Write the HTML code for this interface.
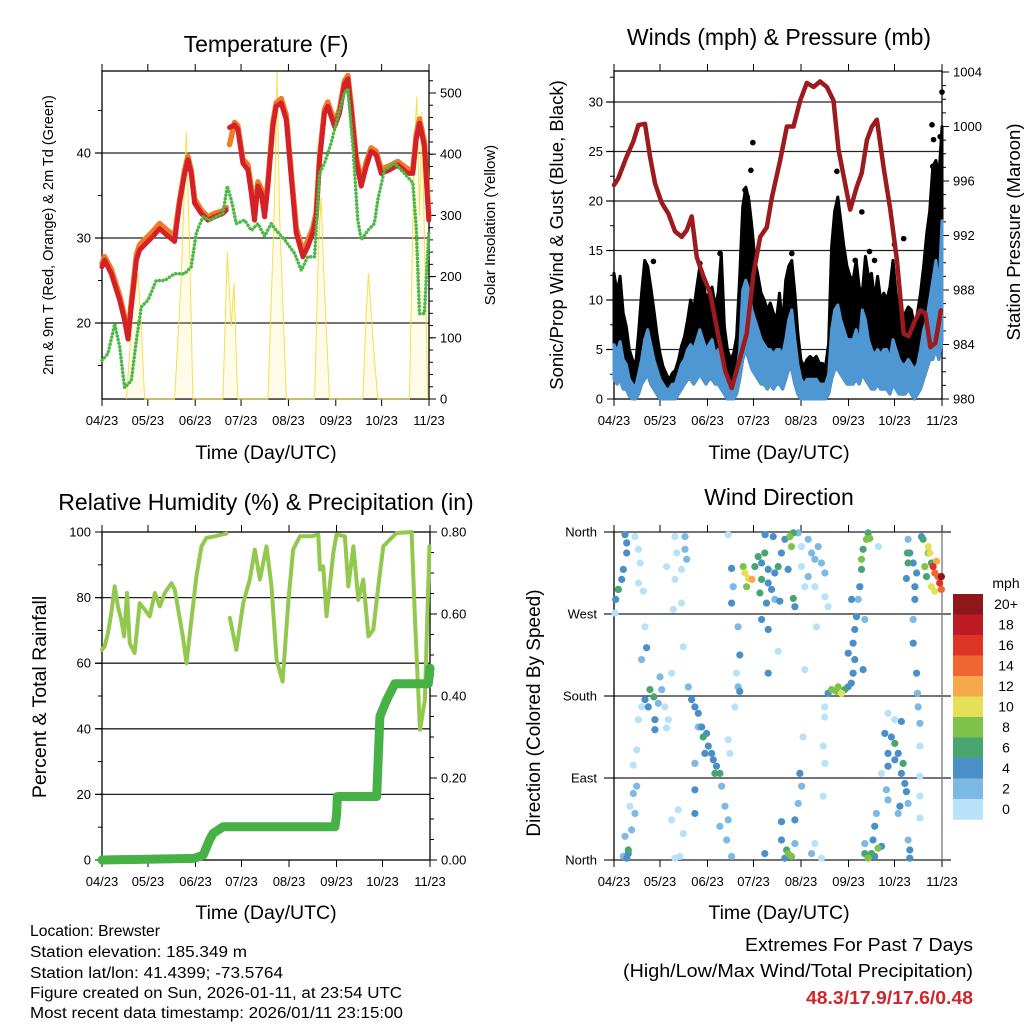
<!DOCTYPE html>
<html><head><meta charset="utf-8">
<style>
html,body{margin:0;padding:0;background:#fff;}
svg{display:block;font-family:"Liberation Sans",sans-serif;}
.nar{font-family:"Liberation Sans Narrow","Liberation Sans",sans-serif;}
</style></head>
<body>
<svg id="chart" width="1024" height="1024" viewBox="0 0 1024 1024" xmlns="http://www.w3.org/2000/svg">
<rect width="1024" height="1024" fill="#fff"/>
<g id="layer"></g>
<text x="266" y="52" font-size="23" text-anchor="middle">Temperature (F)</text>
<text x="779" y="45" font-size="23" text-anchor="middle">Winds (mph) &amp; Pressure (mb)</text>
<text x="266" y="510" font-size="23" text-anchor="middle">Relative Humidity (%) &amp; Precipitation (in)</text>
<text x="779" y="505" font-size="23" text-anchor="middle">Wind Direction</text>
<text x="266" y="459" font-size="19.5" text-anchor="middle">Time (Day/UTC)</text>
<text x="779" y="459" font-size="19.5" text-anchor="middle">Time (Day/UTC)</text>
<text x="266" y="919" font-size="19.5" text-anchor="middle">Time (Day/UTC)</text>
<text x="779" y="919" font-size="19.5" text-anchor="middle">Time (Day/UTC)</text>
<text transform="translate(53,235) rotate(-90)" font-size="14.5" text-anchor="middle">2m &amp; 9m T (Red, Orange) &amp; 2m Td (Green)</text>
<text transform="translate(495,225) rotate(-90)" font-size="15" text-anchor="middle">Solar Insolation (Yellow)</text>
<text transform="translate(563,235) rotate(-90)" font-size="18.5" text-anchor="middle">Sonic/Prop Wind &amp; Gust (Blue, Black)</text>
<text transform="translate(1020,232) rotate(-90)" font-size="18.5" text-anchor="middle">Station Pressure (Maroon)</text>
<text transform="translate(46,697) rotate(-90)" font-size="19.5" text-anchor="middle">Percent &amp; Total Rainfall</text>
<text transform="translate(540,713) rotate(-90)" font-size="19" text-anchor="middle">Direction (Colored By Speed)</text>
<text x="1006" y="588" font-size="14" text-anchor="middle">mph</text>
<g font-size="15.5" class="nar">
<text x="30" y="936" textLength="130" lengthAdjust="spacingAndGlyphs">Location: Brewster</text>
<text x="30" y="957" textLength="217" lengthAdjust="spacingAndGlyphs">Station elevation: 185.349 m</text>
<text x="30" y="978" textLength="253" lengthAdjust="spacingAndGlyphs">Station lat/lon: 41.4399; -73.5764</text>
<text x="30" y="998" textLength="372" lengthAdjust="spacingAndGlyphs">Figure created on Sun, 2026-01-11, at 23:54 UTC</text>
<text x="30" y="1018" textLength="373" lengthAdjust="spacingAndGlyphs">Most recent data timestamp: 2026/01/11 23:15:00</text>
</g>
<g font-size="18" class="nar">
<text x="745" y="951" textLength="228" lengthAdjust="spacingAndGlyphs">Extremes For Past 7 Days</text>
<text x="623" y="977" textLength="350" lengthAdjust="spacingAndGlyphs">(High/Low/Max Wind/Total Precipitation)</text>
<text x="806" y="1004" textLength="167" lengthAdjust="spacingAndGlyphs" fill="#d0262b" font-weight="bold">48.3/17.9/17.6/0.48</text>
</g>
</svg>
<script>
const monthDays=[0,30,61,91,122,153,183,214];
const monthLabels=['04/23','05/23','06/23','07/23','08/23','09/23','10/23','11/23'];
const tDays=[0,1.7,6.1,11.6,14.8,17,19.2,22.5,24.6,30.1,33.4,37.7,42.1,47.5,50.8,54.1,56.2,58.4,60.6,65,69.3,73.7,79.1,81.3,82,83.5,86.8,88.9,92.2,95.5,97.7,99.8,102,104.2,106.4,108.6,111.8,114,117.3,120.6,123.8,127.1,131.5,134.7,138,140.2,142.4,145.6,147.8,152.2,155.4,158.7,160.9,163.1,166.3,169.6,172.9,176.1,179.4,182.7,188.1,193.6,200.1,203.4,205.6,207.8,211,213.9];
const tRed=[26.6,27.4,25.8,22.7,20.3,18.1,21.9,27.4,28.6,29.6,30.2,31.1,30.4,29.6,34.1,37.6,39.2,37.6,34.1,32.9,32.1,32.5,32.9,33.3,null,43,43.3,42.8,38.8,38,35.3,32.1,36.1,35.3,32.5,36.1,43.1,45.5,45.9,43.9,37.2,30.6,27.8,29,30.6,32.5,39.2,44.7,45.5,43.1,44.7,48.1,48.7,45.1,39.2,36.1,38.4,40.2,39.8,37.6,38,38.6,37.6,37.6,41.6,43.5,40.8,32.1];
const tOrange=[27,27.8,26.3,23.2,20.8,18.5,22.5,28,29.2,30.2,30.8,31.7,31,30.2,34.5,38,39.6,38,34.6,33.3,32.5,32.9,33.2,33.6,null,41,43.6,43.2,39.3,38.6,35.9,32.7,36.6,35.8,33.1,36.6,43.5,45.9,46.4,44.4,37.8,31.2,28.4,29.7,31.2,33,39.6,45.1,46,43.6,45.1,48.5,49.1,45.6,39.7,36.6,38.9,40.6,40.2,38.1,38.5,39,38.1,38,42.1,44,41.3,32.6];
const dDays=[0,3.9,8.3,11.6,14.8,19.2,22.5,25.7,30.1,35.5,41,47.5,54.1,58.4,61.7,66.1,70.4,79.1,82,84.6,87.9,93.3,97.7,102,106.4,110.7,114,119.5,126,130.4,134.7,139.1,142.4,145.6,150,154.3,158.7,160.9,164.2,167.4,169.6,174,178.3,180.5,184.9,191.4,197.9,203.4,205.6,207.8,211,213.9];
const dVals=[15.6,16.4,19.9,17.2,12.4,13.2,18,21.9,22.7,25,25,25.8,25.8,26.6,30.6,32.5,32.1,32.9,36.1,34.5,31.7,32.1,30.9,31.7,30.2,31.7,30.9,29.8,28.2,26.2,27.8,27.8,37.6,38.8,41.2,44.3,47.1,47.5,40.8,32.1,29.8,30.9,31.7,34.5,38,38.8,37.6,36.5,31.3,21.1,21.1,30.6];
const sDays=[15.9,20.3,23.5,25.7,27.9,47.5,51.9,55.2,57.3,59.5,79.1,82,84.6,86.3,88.9,108.6,112.9,114.5,116.2,120.6,139.1,141.7,143.4,145.2,148.9,170.7,172.9,174.4,177.2,180.5,201.2,204.5,206,207.8,209.3,213.2];
const sVals=[0,150,205,120,0,0,200,437,250,0,0,240,120,190,0,0,320,535,300,0,0,250,330,200,0,0,140,205,100,0,0,420,494,300,470,0];
const pDays=[0,2.8,8.3,12.6,15.9,20.2,23.5,26.8,31.1,35.5,39.8,44.2,47.5,50.7,54,58.3,62.7,68.1,72.5,76.8,81.2,86.6,91,95.4,99.7,103,108.4,112.8,117.1,121.5,125.8,130.2,134.5,138.9,143.2,146.5,152,154.1,158.5,161.7,165,168.3,171.5,175.9,180.3,184.6,189,192.2,196.6,199.8,203.1,206.4,209.6,213.3];
const pVals=[995.7,996.2,997.8,998.9,1000.1,1000.2,997.8,995.8,994.4,993.6,992.3,991.9,992.4,993.4,990.4,989,987.8,984.6,982.1,980.8,982.6,984.8,989.2,991.9,992.6,994.8,997.5,1000,1000,1001.9,1003.2,1002.9,1003.3,1002.9,1001.9,998.3,995.1,993.9,995.6,996.6,999,1000,1000.5,997,993.9,990.2,984.8,984.6,985.8,986.5,986.3,983.8,984.1,986.5];
const windDays=[0,2,4,6,8,10,12,14,16,18,20,22,24,26,28,30,32,34,36,38,40,42,44,46,48,50,52,54,56,58,60,62,64,66,68,70,72,74,76,78,80,82,84,86,88,90,92,94,96,98,100,102,104,106,108,110,112,114,116,118,120,122,124,126,128,130,132,134,136,138,140,142,144,146,148,150,152,154,156,158,160,162,164,166,168,170,172,174,176,178,180,182,184,186,188,190,192,194,196,198,200,202,204,206,208,210,212,214];
const gustHi=[12.7,10.7,12.4,8.7,7.3,5,4,3.3,6.6,10.7,14,13.4,11.3,9,6.6,4.6,3.3,2.6,1.9,2.6,2.9,3.9,5.3,6.3,8,10,9,11.3,13.4,12.4,10,10.7,11.3,9.3,10.7,14.7,7.3,5,4,4.6,6.3,12.4,19.4,21.4,20.1,17.4,14,12.4,10.7,10,9,9.7,8.7,8,10.7,7.3,12,13.4,14,10.7,6.6,3.9,3.3,4,4.3,4,4.3,3.6,3.6,3.3,5.6,15.4,19,20.4,18,15.4,13.4,12.4,12,14,11.3,10.7,14.4,12.4,12.7,10,12.4,10,10.7,10,11.3,14,10.7,9,8,8.7,9.3,9,7.3,8.7,10.7,13.4,16.7,19,23.5,24.1,22.5,27.5];
const windHi=[5.5,4.8,5.8,4,3.5,2,1.5,1.2,2.5,4,6,7,5.5,4,3,2,1.5,1,1,1.5,1.5,2.5,3.5,4,5,5.5,5,6,7,6,5,5.5,6,4.5,5,4,3,2,1.5,1.5,2.5,5,11,12,11,9,8,7,6,5.5,5,5,4.5,5,5,4.5,6,8,9,6,3.5,2,1.5,2,2,2,2,1.5,1.5,1.5,2.5,7,9,9.5,8,7,6,6,6,7,5.5,9,8,6,5,4.5,5,4.5,5,5,4,6,5,4,3.5,3.5,4,3.5,3,3.5,5,7,8,10,12,14,11,18];
const windLo=[2,1.5,2,1,1,0.3,0,0,0.5,1.5,2,2.5,1.5,1,0.5,0,0,0,0,0,0,0.5,1,1.5,2,2,1.5,2,2.5,2,1.5,2,2,1.5,1.5,1,0.5,0,0,0,0.5,2,4,5,4,3,2.5,2,1.5,1.5,1,1.5,1,1.5,1.5,1,2,3,3,1.5,0.5,0,0,0,0,0,0,0,0,0,0.5,2,3,3,2.5,2,1.5,1.5,1.5,2,1.5,2.5,2,1.5,1,1,1.5,1,1,1,0.5,1.5,1,0.5,0.5,0.5,1,0.5,0,0.5,1,2,3,4,4,5,4,6];
const gustDotDays=[90.6,89.3,85.5,87,145.4,161.7,207.5,214,208.5,212.8,189,183,69.2,116,25.7,56,157.4,170,166.7,212.8,208];
const gustDotVals=[25.9,23.1,21.1,20.4,23,18.9,27.7,31,26.2,26.5,16.2,15.6,14.7,14.7,13.9,13.7,14,14,14.9,22,23.5];
const rhDays=[0,1.7,3.9,6.1,8.3,10.4,12.6,14.4,16.3,18.1,21.3,24.6,27.9,31.1,34.5,37.7,40.9,45.3,47.5,52.7,55.1,58.3,61.6,64.9,68.1,73.6,78,81.2,82.5,83.4,87.7,92.1,96.4,99.7,103,107.3,110.6,113.9,117.8,121.5,124.7,129.1,136.7,141.1,142.2,144.3,146.5,150.9,153,158.5,160.7,164,167.2,170.5,173.8,177,180.3,183.5,187.9,192.2,202,204.2,207.5,210.7,213.6];
const rhVals=[64.1,65.1,69.2,75.3,83.4,77.3,73.2,68.2,81.4,66.1,63.1,78.3,76.3,74.3,81.4,77.3,81.4,84.4,82.4,68.2,60,73.2,86.5,95.6,98.2,98.7,99.2,99.5,null,73.8,64.1,78.3,85.5,94.6,85.5,95.6,83.4,61,54.4,78.3,94.6,98.7,98.7,99.2,88.5,89.5,74.3,93.6,99.2,98.7,83.4,95.6,79.3,85.5,68.2,70.2,83.4,95.6,97.7,99.7,100,73.2,39.7,48.8,95.6];
const prDays=[0,60,66,70.3,72.5,79,152,153.1,153.5,179.2,181.3,185.7,191.1,212.9,214];
const prVals=[0,0.004,0.012,0.05,0.065,0.081,0.081,0.114,0.155,0.155,0.35,0.39,0.43,0.43,0.468];
const dirDays=[7.2,8.3,8.3,6.1,5,2.8,1.1,0.7,2.8,13.7,15.9,17,15.9,19.1,
8.3,9.3,7.2,11.5,13.7,14.8,12.6,10.4,9.3,6.1,
20.2,21.3,18,15.9,14.8,12.6,18,
23.5,26,26.7,26.7,22.4,20.2,31.1,33.2,35.4,30,37.6,34.3,28.9,
39.8,46.3,46.3,40.9,47.4,34.3,39.8,44.1,38.7,44.1,45.2,
50.6,52.8,55,57.2,58.2,60.4,61.5,63.7,64.8,66.9,69.1,65.8,59.3,52.8,55,48.5,74.5,75.6,
52.8,52.8,45.2,43,39.8,70.2,72.4,69.1,73.5,76.7,74.5,37.6,41.9,
81,82.1,79.9,81,82.1,78.9,76.7,77.8,76.7,74.5,
85.4,87.6,84.3,90,86.5,91.9,94.1,96.3,98.4,100.6,100.6,102.8,104.9,107.1,109.3,111.5,114.7,115.8,117,113.6,98.6,103.9,96.3,95.2,99.5,108.2,117,118,105,96.3,100.6,100.6,107.1,
122.3,126.7,128.9,131.1,133.2,135.4,137.6,126.7,122.3,124.5,131.1,137.6,120.2,139.7,132.1,124.5,
141.9,145.1,148.4,150.5,146.2,139.7,152.7,154.8,137.5,137.5,136.5,137.6,136.5,
156,157.1,156,157.1,158.2,159.3,160.4,161.5,161.5,162.5,164.7,165.8,166.9,172.5,163.6,155,152.8,162.5,
112.6,113.6,115.8,109.3,111.5,118,120.2,118,121.3,122.4,109.3,128.9,98.4,131.1,135.4,123.4,
165.8,168,170.1,172.3,169,170.1,171.2,174.5,163.6,163.6,
176.7,181,183.2,178.8,178.8,183.2,185.4,188.6,187.5,189.7,190.8,177.7,178.8,183.2,187.5,186.5,178.8,174.5,185.4,191.9,
191.9,193,195.2,197.4,196.3,191.9,191.4,190.8,196.3,195.2,195.2,197.4,198,198.5,199.6,199.6,199.6,199.6,199.6,193,193,191.9,
201.7,205,206.1,202.8,203.9,207.1,209.3,208.2,210.4,211.4,213.6,212.5,213.6,207.1,209.3,205,200.6];
const dirDeg=[357,348,337,319,308,297,286,271,297,355,341,326,304,295,
2,11,26,33,51,81,73,59,7,4,
256,233,168,154,121,104,220,
187,179,154,143,168,176,187,168,154,201,205,145,172,
355,355,341,337,330,322,308,319,275,282,234,
176,168,161,146,135,139,125,117,110,103,95,95,117,106,146,190,132,117,
77,51,29,4,2,81,59,37,22,4,44,44,55,
256,225,205,190,185,168,282,300,320,357,
315,309,322,308,300,322,333,326,337,319,304,297,315,322,337,352,355,344,359,319,357,355,308,293,282,284,287,278,286,264,253,205,229,
344,352,337,330,344,326,315,311,322,300,300,289,359,278,256,209,
187,185,183,187,190,183,190,194,168,157,125,106,70,
205,220,238,253,267,286,300,319,330,341,352,359,353,344,264,286,227,209,
11,7,4,22,2,18,62,44,95,81,42,7,7,18,2,135,
2,7,4,13,22,37,51,15,7,18,
139,135,128,117,103,110,117,106,95,84,75,77,66,154,152,59,161,95,51,62,
352,337,326,315,300,326,337,309,286,264,238,205,183,168,150,125,92,70,46,11,2,22,
352,344,337,322,311,326,315,322,328,311,311,304,297,300,295,337,355];
const dirSpd=[4,4,4,4,4,4,4,1,6,1,1,1,1,1,
4,6,3,2,2,2,2,1,5,3,
1,4,1,1,1,1,2,
6,6,4,4,4,4,3,1,1,2,1,1,3,
1,2,2,1,3,1,1,1,1,1,1,
4,4,4,4,6,4,4,4,4,4,6,6,4,2,3,2,1,1,
4,4,1,1,1,3,3,2,2,2,2,1,1,
2,4,1,2,4,1,4,2,4,1,
10,10,8,12,8,6,6,4,6,4,4,4,4,6,4,4,8,8,6,4,4,4,6,6,4,4,6,4,2,4,4,4,1,
1,2,2,2,2,2,2,2,1,1,1,1,2,1,1,1,
8,8,10,6,8,4,4,4,1,1,1,1,1,
4,4,4,4,4,2,4,6,8,6,8,6,8,1,2,4,4,4,
6,8,8,4,4,2,2,4,4,2,4,2,4,1,1,1,
8,6,4,8,4,4,2,4,6,2,
4,4,6,4,4,4,4,6,4,4,4,2,2,1,4,4,1,1,2,2,
2,4,4,4,4,6,6,4,4,2,4,4,2,2,2,1,1,1,1,4,4,2,
6,10,10,8,6,6,14,16,12,14,20,16,14,10,10,8,4];
const speedLabels=['20+','18','16','14','12','10','8','6','4','2','0'];
const speedColors=['#b8e2f8','#7cb9e4','#4a8fc7','#48a570','#7ec24b','#e6e059','#f5a94a','#ef6632','#dd3428','#bd1b24','#8f1619'];
const tempTicks=[20,30,40];
const solarTicks=[0,100,200,300,400,500];
const windTicks=[0,5,10,15,20,25,30];
const presTicks=[980,984,988,992,996,1000,1004];
const rhTicks=[0,20,40,60,80,100];
const prTicks=[0,0.2,0.4,0.6,0.8];
const dirTicks=[0,90,180,270,360];
const dirLabels=['North','East','South','West','North'];

const NS='http://www.w3.org/2000/svg';
const layer=document.getElementById('layer');
function mk(tag,attrs,parent){const e=document.createElementNS(NS,tag);for(const k in attrs)e.setAttribute(k,attrs[k]);(parent||layer).appendChild(e);return e;}
function pathD(xs,ys,fx,fy){let d='',pen=false;for(let i=0;i<xs.length;i++){if(ys[i]===null||ys[i]===undefined){pen=false;continue;}d+=(pen?'L':'M')+fx(xs[i]).toFixed(1)+','+fy(ys[i]).toFixed(1);pen=true;}return d;}

const P1={x0:102,x1:429,y0:71,y1:399};
const P2={x0:614,x1:942,y0:71,y1:399};
const P3={x0:102,x1:430,y0:532,y1:860};
const P4={x0:614,x1:942,y0:532,y1:860};
const xs=p=>d=>p.x0+d/214*(p.x1-p.x0);
const yT=v=>323-(v-20)*8.5;
const yS=v=>399-v*0.612;
const yW=v=>399-v*9.9;
const yP=v=>399-(v-980)*13.625;
const yRH=v=>860-v*3.28;
const yPR=v=>860-v*410;
const yD=v=>860-v*328/360;

function frame(p,name,grid,gx0,gx1){
  const g=mk('g',{});
  
  
  grid.forEach(y=>{mk('line',{x1:gx0,x2:gx1,y1:y,y2:y,stroke:'#222','stroke-width':1.3},g);});
  mk('rect',{x:p.x0,y:p.y0,width:p.x1-p.x0,height:p.y1-p.y0,fill:'none',stroke:'#000','stroke-width':1.3},g);
  const fx=xs(p);
  monthDays.forEach((d,i)=>{const x=fx(d);
    mk('line',{x1:x,x2:x,y1:p.y0,y2:p.y0-7,stroke:'#000','stroke-width':1},g);
    mk('line',{x1:x,x2:x,y1:p.y1,y2:p.y1+7,stroke:'#000','stroke-width':1},g);
    const t=mk('text',{x:x,y:p.y1+26,'font-size':13,'text-anchor':'middle'},g);t.textContent=monthLabels[i];
  });
  return g;
}
function yTicks(g,x,ticks,fy,labels,side,major,minorStep,lo,hi,dec){
  const dir=side==='l'?-1:1;
  if(minorStep){for(let v=lo;v<=hi+1e-9;v+=minorStep){const y=fy(v);if(y<70||y>400&&y<500||y>861)continue;mk('line',{x1:x,x2:x+dir*4,y1:y,y2:y,stroke:'#000','stroke-width':1},g);}}
  ticks.forEach((v,i)=>{const y=fy(v);
    mk('line',{x1:x,x2:x+dir*7,y1:y,y2:y,stroke:'#000','stroke-width':1},g);
    const t=mk('text',{x:x+dir*11,y:y+4.5,'font-size':13,'text-anchor':side==='l'?'end':'start'},g);
    t.textContent=labels?labels[i]:(dec?v.toFixed(dec):v);
  });
}

const g1=frame(P1,'temperature',tempTicks.map(yT),95,P1.x1);
yTicks(g1,P1.x0,tempTicks,yT,null,'l',7,5,15,45);
yTicks(g1,P1.x1,solarTicks,yS,null,'r',7,20,0,520);
const f1=xs(P1);
let e;
e=mk('path',{d:pathD(sDays,sVals,f1,yS),fill:'#f7e04a','fill-opacity':0.12,stroke:'#f5dc3a','stroke-width':1,'stroke-opacity':0.9});


e=mk('path',{d:pathD(tDays,tOrange,f1,yT),fill:'none',stroke:'#f07a26','stroke-width':5.5,'stroke-linejoin':'round','stroke-linecap':'round'});


e=mk('path',{d:pathD(tDays,tRed,f1,yT),fill:'none',stroke:'#d42127','stroke-width':5,'stroke-linejoin':'round','stroke-linecap':'round'});


e=mk('path',{d:pathD(dDays,dVals,f1,yT),fill:'none',stroke:'#4cb848','stroke-width':3.5,'stroke-dasharray':'0.1 3.6','stroke-linecap':'round'});



const g2=frame(P2,'winds',windTicks.slice(1).map(yW),606,P2.x1);
yTicks(g2,P2.x0,windTicks,yW,null,'l',7,2.5,0,32.5);
yTicks(g2,P2.x1,presTicks,yP,null,'r',7,1,980,1004);
const f2=xs(P2);
let dG='';
for(let i=0;i<windDays.length;i++)dG+=(i?'L':'M')+f2(windDays[i]).toFixed(1)+','+yW(gustHi[i]).toFixed(1);
for(let i=windDays.length-1;i>=0;i--)dG+='L'+f2(windDays[i]).toFixed(1)+','+yW(windLo[i]).toFixed(1);
e=mk('path',{d:dG+'Z',fill:'#000',stroke:'#000','stroke-width':3,'stroke-linejoin':'round'});


gustDotDays.forEach((d,i)=>{const c=mk('circle',{cx:f2(d),cy:yW(gustDotVals[i]),r:2.8,fill:'#000'});

});
let dB='';
for(let i=0;i<windDays.length;i++)dB+=(i?'L':'M')+f2(windDays[i]).toFixed(1)+','+yW(windHi[i]).toFixed(1);
for(let i=windDays.length-1;i>=0;i--)dB+='L'+f2(windDays[i]).toFixed(1)+','+yW(windLo[i]).toFixed(1);
e=mk('path',{d:dB+'Z',fill:'#4f97d2',stroke:'#4f97d2','stroke-width':3,'stroke-linejoin':'round'});


e=mk('path',{d:pathD(pDays,pVals,f2,yP),fill:'none',stroke:'#9b1b1e','stroke-width':4.5,'stroke-linejoin':'round','stroke-linecap':'round'});



const g3=frame(P3,'humidity',rhTicks.slice(1,-1).map(yRH),95,P3.x1);
yTicks(g3,P3.x0,rhTicks,yRH,null,'l',7,10,0,100);
yTicks(g3,P3.x1,prTicks,yPR,null,'r',7,0.05,0,0.8,2);
const f3=xs(P3);
e=mk('path',{d:pathD(rhDays,rhVals,f3,yRH),fill:'none',stroke:'#93c84f','stroke-width':4,'stroke-linejoin':'round','stroke-linecap':'round'});


e=mk('path',{d:pathD(prDays,prVals,f3,yPR),fill:'none',stroke:'#46b246','stroke-width':9,'stroke-linejoin':'round','stroke-linecap':'round'});



const g4=mk('g',{});


dirTicks.forEach((v,i)=>{const y=yD(v);
  mk('line',{x1:604,x2:951,y1:y,y2:y,stroke:'#222','stroke-width':1.3},g4);
  const t=mk('text',{x:597,y:y+4.5,'font-size':13,'text-anchor':'end'},g4);t.textContent=dirLabels[i];});
mk('line',{x1:P4.x0,x2:P4.x0,y1:P4.y0,y2:P4.y1,stroke:'#000','stroke-width':1.3},g4);
mk('line',{x1:P4.x1,x2:P4.x1,y1:P4.y0,y2:P4.y1,stroke:'#777','stroke-width':1.3},g4);
const f4=xs(P4);
monthDays.forEach((d,i)=>{const x=f4(d);
  mk('line',{x1:x,x2:x,y1:P4.y0,y2:P4.y0-7,stroke:'#000','stroke-width':1},g4);
  mk('line',{x1:x,x2:x,y1:P4.y1,y2:P4.y1+7,stroke:'#000','stroke-width':1},g4);
  const t=mk('text',{x:x,y:P4.y1+26,'font-size':13,'text-anchor':'middle'},g4);t.textContent=monthLabels[i];});
const n=Math.min(dirDays.length,dirDeg.length,dirSpd.length);
const order=[...Array(n).keys()].sort((a,b)=>dirSpd[a]-dirSpd[b]);
order.forEach(i=>{const bin=Math.min(10,Math.floor(dirSpd[i]/2));
  const c=mk('circle',{cx:f4(dirDays[i]).toFixed(1),cy:yD(dirDeg[i]).toFixed(1),r:3.6,fill:speedColors[bin]});
  
  });
const cb=mk('g',{});


speedLabels.forEach((lab,i)=>{const y=594+i*20.5;
  mk('rect',{x:953,y:y,width:30,height:20.8,fill:speedColors[10-i]},cb);
  const t=mk('text',{x:1006,y:y+15,'font-size':14,'text-anchor':'middle'},cb);t.textContent=lab;});
</script>
</body></html>
